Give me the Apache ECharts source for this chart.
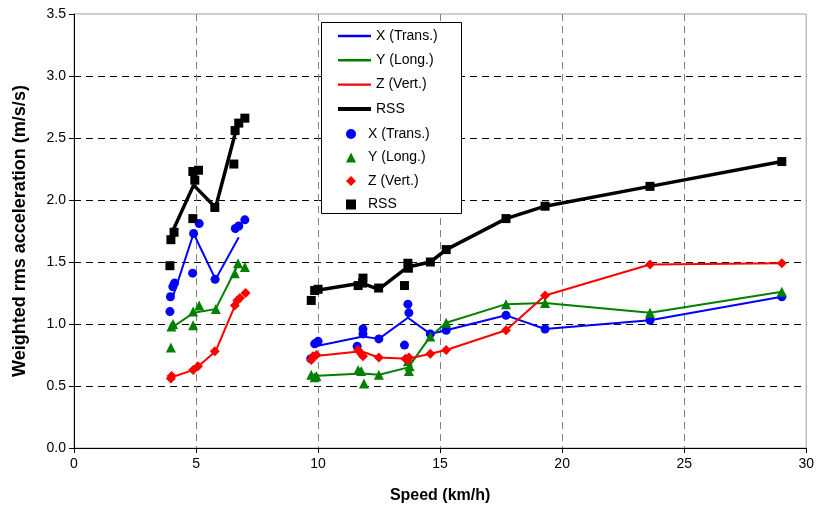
<!DOCTYPE html>
<html>
<head>
<meta charset="utf-8">
<script src="https://cdn.jsdelivr.net/npm/echarts@6/dist/echarts.min.js"></script>
<style>
  html, body { margin: 0; padding: 0; background: #fff; }
  #chart { width: 817px; height: 515px; }
</style>
</head>
<body>
<div id="chart"></div>
<script>
// fitted lines, split in two groups (low speed / high speed)
const xLineLeft = [[4.0, 1.19], [4.9, 1.73], [5.8, 1.36], [6.75, 1.70]];
const xLineRight = [[9.9, 0.82], [11.84, 0.90], [12.49, 0.88], [13.68, 1.05], [14.6, 0.92], [15.25, 0.95], [17.7, 1.07], [19.3, 0.96], [23.6, 1.03], [29.0, 1.22]];
const yLineLeft = [[4.0, 0.97], [4.9, 1.09], [5.8, 1.12], [6.7, 1.47]];
const yLineRight = [[9.8, 0.58], [11.8, 0.60], [12.5, 0.59], [13.7, 0.65], [14.6, 0.90], [15.25, 1.01], [17.7, 1.16], [19.3, 1.17], [23.6, 1.09], [29.0, 1.26]];
const zLineLeft = [[4.0, 0.57], [4.9, 0.63], [5.1, 0.66], [5.8, 0.78], [6.6, 1.15], [6.75, 1.20]];
const zLineRight = [[9.8, 0.74], [11.77, 0.78], [12.49, 0.73], [13.7, 0.72], [14.6, 0.76], [15.25, 0.79], [17.7, 0.95], [19.3, 1.23], [23.6, 1.48], [29.0, 1.49]];
const rssLineLeft = [[4.0, 1.73], [4.9, 2.12], [5.8, 1.94], [6.65, 2.57]];
const rssLineRight = [[9.9, 1.27], [11.8, 1.33], [12.48, 1.28], [13.68, 1.46], [14.6, 1.50], [15.25, 1.60], [17.7, 1.85], [19.3, 1.95], [23.6, 2.11], [29.0, 2.31]];

// measured points
const xPts = [[3.93, 1.10], [3.95, 1.22], [4.05, 1.30], [4.12, 1.33], [4.86, 1.41], [4.9, 1.73], [5.13, 1.81], [5.78, 1.36], [6.61, 1.77], [6.75, 1.79], [7.0, 1.84],
  [9.7, 0.72], [9.86, 0.84], [10.0, 0.86], [11.6, 0.82], [11.84, 0.96], [11.84, 0.92], [12.49, 0.88], [13.54, 0.83], [13.68, 1.16], [13.72, 1.09], [14.6, 0.92], [15.25, 0.95], [17.7, 1.07], [19.3, 0.96], [23.6, 1.03], [29.0, 1.22]];
const yPts = [[3.97, 0.81], [3.99, 0.98], [4.06, 1.0], [4.88, 0.99], [4.88, 1.10], [5.13, 1.15], [5.81, 1.12], [6.59, 1.41], [6.72, 1.49], [7.0, 1.46],
  [9.72, 0.59], [9.86, 0.57], [9.93, 0.58], [11.64, 0.63], [11.77, 0.62], [11.88, 0.52], [12.49, 0.59], [13.68, 0.70], [13.72, 0.62], [13.75, 0.66], [14.6, 0.90], [15.25, 1.01], [17.7, 1.16], [19.3, 1.17], [23.6, 1.09], [29.0, 1.26]];
const zPts = [[3.97, 0.56], [4.0, 0.58], [4.88, 0.63], [5.08, 0.66], [5.77, 0.78], [6.59, 1.15], [6.69, 1.19], [6.8, 1.21], [7.03, 1.25],
  [9.72, 0.71], [9.79, 0.74], [9.93, 0.75], [11.64, 0.79], [11.77, 0.76], [11.84, 0.74], [12.49, 0.73], [13.58, 0.72], [13.72, 0.73], [13.68, 0.71], [14.6, 0.76], [15.25, 0.79], [17.7, 0.95], [19.3, 1.23], [23.6, 1.48], [29.0, 1.49]];
const rssPts = [[3.93, 1.47], [3.97, 1.68], [4.1, 1.74], [4.87, 1.85], [4.87, 2.23], [4.95, 2.16], [5.1, 2.24], [5.77, 1.94], [6.55, 2.29], [6.6, 2.56], [6.75, 2.62], [7.0, 2.66],
  [9.72, 1.19], [9.86, 1.27], [10.0, 1.28], [11.64, 1.31], [11.82, 1.33], [11.84, 1.37], [12.48, 1.29], [13.54, 1.31], [13.68, 1.49], [13.7, 1.45], [14.6, 1.50], [15.25, 1.60], [17.7, 1.85], [19.3, 1.95], [23.6, 2.11], [29.0, 2.31]];

const lineNames = ['X (Trans.)', 'Y (Long.)', 'Z (Vert.)', 'RSS'];
// trailing space keeps scatter legend entries apart from the line ones
const ptNames = ['X (Trans.) ', 'Y (Long.) ', 'Z (Vert.) ', 'RSS '];
const colors = ['#0000ff', '#008000', '#ff0000', '#000000'];

const font = 'Arial, "Liberation Sans", sans-serif';

function fitLine(name, data, color, width) {
  return {
    name: name, type: 'line', data: data, symbol: 'none',
    lineStyle: { color: color, width: width }, itemStyle: { color: color },
    z: 2, silent: true
  };
}
function pts(name, data, color, symbol, size) {
  return {
    name: name, type: 'scatter', data: data, symbol: symbol, symbolSize: size,
    itemStyle: { color: color, opacity: 1 }, z: 3
  };
}

// dashed grid lines, none on the plot border (last one hidden)
const yGridColors = ['#000', '#000', '#000', '#000', '#000', '#000', '#000', 'rgba(0,0,0,0)'];
const xGridColors = ['#808080', '#808080', '#808080', '#808080', '#808080', '#808080', 'rgba(0,0,0,0)'];

const option = {
  animation: false,
  backgroundColor: '#fff',
  grid: { left: 74, right: 10, top: 14, bottom: 67, show: true, borderColor: '#a0a0a0', borderWidth: 1 },
  xAxis: {
    type: 'value', min: 0, max: 30, interval: 5,
    name: 'Speed (km/h)', nameLocation: 'middle', nameGap: 40,
    nameTextStyle: { fontFamily: font, fontWeight: 'bold', fontSize: 16, color: '#000' },
    axisLine: { lineStyle: { color: '#000', width: 1 } },
    axisTick: { show: true, length: 5, lineStyle: { color: '#000' } },
    axisLabel: { fontFamily: font, fontSize: 14, color: '#000', margin: 9 },
    splitLine: { show: true, lineStyle: { color: xGridColors, type: [7, 5], width: 1 } }
  },
  yAxis: {
    type: 'value', min: 0, max: 3.5, interval: 0.5,
    name: 'Weighted rms acceleration (m/s/s)', nameLocation: 'middle', nameGap: 45,
    nameTextStyle: { fontFamily: font, fontWeight: 'bold', fontSize: 18, color: '#000' },
    axisLine: { show: true, lineStyle: { color: '#000', width: 1 } },
    axisTick: { show: true, length: 5, lineStyle: { color: '#000' } },
    axisLabel: { fontFamily: font, fontSize: 14, color: '#000', margin: 8, formatter: v => v.toFixed(1) },
    splitLine: { show: true, lineStyle: { color: yGridColors, type: [7, 5], width: 1 } }
  },
  legend: [
    {
      orient: 'vertical', left: 333, top: 24, itemGap: 10.3, itemWidth: 33, itemHeight: 16,
      symbolKeepAspect: true,
      textStyle: { fontFamily: font, fontSize: 14, color: '#000' },
      data: lineNames.map((n, i) => ({
        name: n,
        icon: i === 3 ? 'path://M0,0H33V4H0Z' : 'path://M0,0H33V2.4H0Z'
      }))
    },
    {
      orient: 'vertical', left: 341, top: 122, itemGap: 9.5, itemWidth: 24, itemHeight: 10,
      symbolKeepAspect: true,
      textStyle: { fontFamily: font, fontSize: 14, color: '#000' },
      data: [
        { name: ptNames[0], icon: 'circle' },
        { name: ptNames[1], icon: 'path://M5,0L10,10L0,10Z' },
        { name: ptNames[2], icon: 'path://M5,0L10,5L5,10L0,5Z' },
        { name: ptNames[3], icon: 'path://M0,0H10V10H0Z' }
      ]
    }
  ],
  // legend box: white fill hides the grid lines behind the legend
  graphic: [{
    type: 'rect', left: 321, top: 22, z: 3, silent: true,
    shape: { width: 140, height: 191 },
    style: { fill: '#fff', stroke: '#000', lineWidth: 1 }
  }],
  series: [
    fitLine(lineNames[0], xLineLeft, colors[0], 2),
    fitLine(lineNames[0], xLineRight, colors[0], 2),
    fitLine(lineNames[1], yLineLeft, colors[1], 2),
    fitLine(lineNames[1], yLineRight, colors[1], 2),
    fitLine(lineNames[2], zLineLeft, colors[2], 2),
    fitLine(lineNames[2], zLineRight, colors[2], 2),
    fitLine(lineNames[3], rssLineLeft, colors[3], 3.5),
    fitLine(lineNames[3], rssLineRight, colors[3], 3.5),
    pts(ptNames[0], xPts, colors[0], 'circle', 9),
    pts(ptNames[1], yPts, colors[1], 'triangle', 10),
    pts(ptNames[2], zPts, colors[2], 'diamond', 10),
    pts(ptNames[3], rssPts, colors[3], 'rect', 9)
  ]
};

const chart = echarts.init(document.getElementById('chart'), null, { renderer: 'canvas' });
chart.setOption(option);
</script>
</body>
</html>
